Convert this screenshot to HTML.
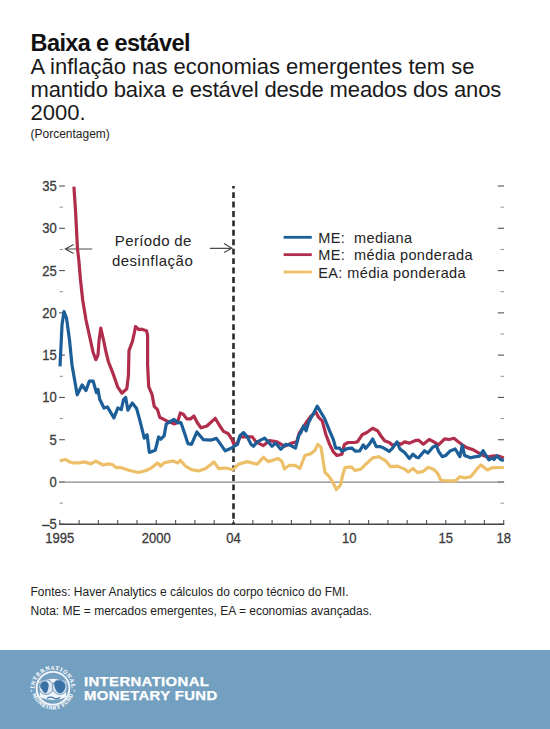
<!DOCTYPE html>
<html><head><meta charset="utf-8">
<style>
html,body{margin:0;padding:0;background:#fff;}
body{width:550px;height:729px;position:relative;overflow:hidden;font-family:"Liberation Sans",sans-serif;}
.t{position:absolute;white-space:nowrap;left:0;}
#title{left:30.6px;top:32.1px;font-weight:bold;font-size:23.5px;line-height:23px;color:#111;letter-spacing:-0.62px;}
.sub{left:30.5px;font-size:22px;line-height:23px;color:#1a1a1a;}
#pct{left:30.5px;top:127px;font-size:12px;line-height:14px;color:#222;}
.fn{left:30.5px;font-size:12px;line-height:14px;color:#222;}
svg{position:absolute;left:0;top:0;}
.tk{stroke:#5a5a5a;stroke-width:1.15;}
.tk2{stroke:#8a8a8a;stroke-width:0.95;}
.zero{stroke:#8a8a8a;stroke-width:1.2;}
.axis{stroke:#444;stroke-width:1.4;}
.dash{stroke:#2a2a2a;stroke-width:2.6;stroke-dasharray:5.9 3.53;stroke-dashoffset:3.3;}
.arr{stroke:#4a4a4a;stroke-width:1.15;fill:none;}
.ln{fill:none;stroke-width:3.2;stroke-linejoin:round;stroke-linecap:butt;}
.yl{font-family:"Liberation Sans",sans-serif;font-size:14.5px;fill:#3a3a3a;stroke:#3a3a3a;stroke-width:0.3;text-anchor:end;}
.xl{font-family:"Liberation Sans",sans-serif;font-size:14.5px;fill:#3a3a3a;stroke:#3a3a3a;stroke-width:0.3;text-anchor:middle;}
.lg{font-family:"Liberation Sans",sans-serif;font-size:14.5px;letter-spacing:0.4px;fill:#222;}
.an{font-family:"Liberation Sans",sans-serif;font-size:15px;fill:#222;text-anchor:middle;}
#banner{position:absolute;left:0;top:650px;width:550px;height:79px;background:#739fc0;}
.imf{position:absolute;left:83.8px;transform:scaleX(1.24);transform-origin:0 0;font-weight:bold;font-size:12px;line-height:14px;color:#fff;letter-spacing:0.3px;-webkit-text-stroke:0.25px #fff;}
</style></head><body>
<div class="t" id="title">Baixa e estável</div>
<div class="t sub" style="top:54.6px">A inflação nas economias emergentes tem se</div>
<div class="t sub" style="top:77.6px;letter-spacing:-0.14px">mantido baixa e estável desde meados dos anos</div>
<div class="t sub" style="top:100.6px">2000.</div>
<div class="t" id="pct">(Porcentagem)</div>
<div class="t fn" style="top:585.2px">Fontes: Haver Analytics e cálculos do corpo técnico do FMI.</div>
<div class="t fn" style="top:603.8000000000001px">Nota: ME = mercados emergentes, EA = economias avançadas.</div>
<svg width="550" height="729" viewBox="0 0 550 729">
<line x1="59.1" y1="524.28" x2="64.9" y2="524.28" class="tk"/>
<line x1="497.8" y1="524.28" x2="504" y2="524.28" class="tk"/>
<line x1="59.7" y1="503.14" x2="63" y2="503.14" class="tk2"/>
<line x1="500.6" y1="503.14" x2="504" y2="503.14" class="tk2"/>
<line x1="59.1" y1="482.00" x2="64.9" y2="482.00" class="tk"/>
<line x1="497.8" y1="482.00" x2="504" y2="482.00" class="tk"/>
<line x1="59.7" y1="460.86" x2="63" y2="460.86" class="tk2"/>
<line x1="500.6" y1="460.86" x2="504" y2="460.86" class="tk2"/>
<line x1="59.1" y1="439.71" x2="64.9" y2="439.71" class="tk"/>
<line x1="497.8" y1="439.71" x2="504" y2="439.71" class="tk"/>
<line x1="59.7" y1="418.57" x2="63" y2="418.57" class="tk2"/>
<line x1="500.6" y1="418.57" x2="504" y2="418.57" class="tk2"/>
<line x1="59.1" y1="397.43" x2="64.9" y2="397.43" class="tk"/>
<line x1="497.8" y1="397.43" x2="504" y2="397.43" class="tk"/>
<line x1="59.7" y1="376.29" x2="63" y2="376.29" class="tk2"/>
<line x1="500.6" y1="376.29" x2="504" y2="376.29" class="tk2"/>
<line x1="59.1" y1="355.14" x2="64.9" y2="355.14" class="tk"/>
<line x1="497.8" y1="355.14" x2="504" y2="355.14" class="tk"/>
<line x1="59.7" y1="334.00" x2="63" y2="334.00" class="tk2"/>
<line x1="500.6" y1="334.00" x2="504" y2="334.00" class="tk2"/>
<line x1="59.1" y1="312.86" x2="64.9" y2="312.86" class="tk"/>
<line x1="497.8" y1="312.86" x2="504" y2="312.86" class="tk"/>
<line x1="59.7" y1="291.72" x2="63" y2="291.72" class="tk2"/>
<line x1="500.6" y1="291.72" x2="504" y2="291.72" class="tk2"/>
<line x1="59.1" y1="270.57" x2="64.9" y2="270.57" class="tk"/>
<line x1="497.8" y1="270.57" x2="504" y2="270.57" class="tk"/>
<line x1="59.7" y1="249.43" x2="63" y2="249.43" class="tk2"/>
<line x1="500.6" y1="249.43" x2="504" y2="249.43" class="tk2"/>
<line x1="59.1" y1="228.29" x2="64.9" y2="228.29" class="tk"/>
<line x1="497.8" y1="228.29" x2="504" y2="228.29" class="tk"/>
<line x1="59.7" y1="207.15" x2="63" y2="207.15" class="tk2"/>
<line x1="500.6" y1="207.15" x2="504" y2="207.15" class="tk2"/>
<line x1="59.1" y1="186.00" x2="64.9" y2="186.00" class="tk"/>
<line x1="497.8" y1="186.00" x2="504" y2="186.00" class="tk"/>
<text transform="translate(56.8 191.00) scale(0.9 1)" class="yl">35</text>
<text transform="translate(56.8 233.29) scale(0.9 1)" class="yl">30</text>
<text transform="translate(56.8 275.57) scale(0.9 1)" class="yl">25</text>
<text transform="translate(56.8 317.86) scale(0.9 1)" class="yl">20</text>
<text transform="translate(56.8 360.14) scale(0.9 1)" class="yl">15</text>
<text transform="translate(56.8 402.43) scale(0.9 1)" class="yl">10</text>
<text transform="translate(56.8 444.71) scale(0.9 1)" class="yl">5</text>
<text transform="translate(56.8 487.00) scale(0.9 1)" class="yl">0</text>
<text transform="translate(56.8 529.28) scale(0.9 1)" class="yl">–5</text>
<line x1="59.80" y1="520" x2="59.80" y2="524.2" class="tk"/>
<line x1="79.10" y1="520" x2="79.10" y2="524.2" class="tk"/>
<line x1="98.40" y1="520" x2="98.40" y2="524.2" class="tk"/>
<line x1="117.70" y1="520" x2="117.70" y2="524.2" class="tk"/>
<line x1="137.00" y1="520" x2="137.00" y2="524.2" class="tk"/>
<line x1="156.30" y1="520" x2="156.30" y2="524.2" class="tk"/>
<line x1="175.60" y1="520" x2="175.60" y2="524.2" class="tk"/>
<line x1="194.90" y1="520" x2="194.90" y2="524.2" class="tk"/>
<line x1="214.20" y1="520" x2="214.20" y2="524.2" class="tk"/>
<line x1="233.50" y1="520" x2="233.50" y2="524.2" class="tk"/>
<line x1="252.80" y1="520" x2="252.80" y2="524.2" class="tk"/>
<line x1="272.10" y1="520" x2="272.10" y2="524.2" class="tk"/>
<line x1="291.40" y1="520" x2="291.40" y2="524.2" class="tk"/>
<line x1="310.70" y1="520" x2="310.70" y2="524.2" class="tk"/>
<line x1="330.00" y1="520" x2="330.00" y2="524.2" class="tk"/>
<line x1="349.30" y1="520" x2="349.30" y2="524.2" class="tk"/>
<line x1="368.60" y1="520" x2="368.60" y2="524.2" class="tk"/>
<line x1="387.90" y1="520" x2="387.90" y2="524.2" class="tk"/>
<line x1="407.20" y1="520" x2="407.20" y2="524.2" class="tk"/>
<line x1="426.50" y1="520" x2="426.50" y2="524.2" class="tk"/>
<line x1="445.80" y1="520" x2="445.80" y2="524.2" class="tk"/>
<line x1="465.10" y1="520" x2="465.10" y2="524.2" class="tk"/>
<line x1="484.40" y1="520" x2="484.40" y2="524.2" class="tk"/>
<line x1="503.70" y1="520" x2="503.70" y2="524.2" class="tk"/>
<text transform="translate(59.80 542.5) scale(0.9 1)" class="xl">1995</text>
<text transform="translate(156.30 542.5) scale(0.9 1)" class="xl">2000</text>
<text transform="translate(233.50 542.5) scale(0.9 1)" class="xl">04</text>
<text transform="translate(349.30 542.5) scale(0.9 1)" class="xl">10</text>
<text transform="translate(445.80 542.5) scale(0.9 1)" class="xl">15</text>
<text transform="translate(503.70 542.5) scale(0.9 1)" class="xl">18</text>
<line x1="59.1" y1="482.1" x2="504.2" y2="482.1" class="zero"/>
<line x1="59.3" y1="524.2" x2="504.2" y2="524.2" class="axis"/>
<line x1="233.5" y1="186" x2="233.5" y2="524" class="dash"/>
<path d="M65.3 249 H92.2 M73.6 244.5 L65.3 249 L73.6 253.5" class="arr"/>
<path d="M209.8 248.3 H232 M224 243.4 L232 248.3 L224 252.5" class="arr"/>
<polyline points="60.0,460.8 65.7,459.5 69.0,461.7 72.3,462.8 78.8,462.8 84.3,461.9 90.9,463.9 95.8,461.1 103.0,465.0 108.5,463.9 113.0,464.8 116.1,467.7 120.6,467.4 129.5,470.5 138.5,472.5 146.1,470.5 151.2,468.0 157.5,462.9 160.7,466.1 163.9,462.9 172.8,461.0 177.9,462.9 180.3,460.3 185.6,466.2 191.5,469.7 198.6,470.9 205.7,468.6 214.0,462.0 218.7,468.6 225.8,468.0 232.9,469.7 238.7,464.1 247.3,461.6 257.2,464.1 263.4,457.3 268.3,461.6 278.2,458.5 281.9,461.6 284.4,469.0 289.3,465.3 295.0,465.4 299.9,468.5 304.9,455.5 311.0,453.6 314.8,450.6 317.8,444.4 320.9,446.9 322.3,455.0 323.6,464.1 325.0,472.3 328.6,475.9 332.3,481.4 336.4,489.5 340.5,485.0 343.2,473.2 345.0,467.7 351.4,466.8 355.0,470.5 360.9,469.1 366.8,463.2 372.7,457.9 378.6,456.7 385.7,460.8 390.5,466.7 397.5,466.1 404.6,469.1 408.2,472.1 412.9,468.5 417.6,472.6 423.3,471.4 428.0,467.3 433.9,469.6 437.5,473.2 441.0,480.3 445.7,480.9 455.2,480.9 459.9,476.7 464.6,477.9 470.6,476.7 474.4,472.2 478.0,467.8 480.9,464.9 484.5,467.8 487.5,470.0 491.8,467.8 499.1,467.5 503.8,467.5" class="ln" stroke="#ecbf68"/>
<polyline points="73.9,186.6 75.5,210.0 77.5,249.0 78.8,260.0 80.5,280.0 82.7,300.0 86.0,320.0 90.4,340.0 93.0,352.0 95.8,359.7 98.0,355.0 99.1,340.0 100.8,328.0 103.5,340.0 106.0,352.0 108.5,362.0 112.8,372.9 117.8,387.2 121.8,393.2 126.8,388.8 128.4,375.8 129.0,350.6 132.3,341.8 134.5,332.0 135.5,326.5 138.8,329.7 141.6,329.2 146.5,330.8 147.6,335.2 147.6,364.8 148.7,386.6 152.0,394.3 154.2,406.3 157.5,409.6 159.7,417.3 166.3,420.6 174.0,423.9 177.4,422.5 180.3,413.0 183.3,414.2 186.8,418.9 190.4,418.9 193.9,416.0 197.5,423.0 201.0,427.8 206.9,426.0 215.2,418.3 219.9,426.0 223.5,431.3 228.2,433.7 231.7,439.0 234.1,444.9 237.6,442.6 239.9,436.9 252.3,436.9 256.0,441.9 263.4,445.6 269.6,440.6 277.0,441.9 284.4,446.2 291.8,443.1 296.7,441.9 299.2,433.2 302.4,428.3 307.3,420.9 311.0,416.0 316.0,412.3 318.5,417.2 322.2,420.9 325.9,434.5 329.6,444.4 333.3,451.8 337.0,455.5 341.9,454.3 344.4,444.4 348.1,442.5 354.3,442.5 357.4,441.9 362.1,434.8 366.8,432.5 372.7,428.3 377.5,430.7 381.0,436.0 384.6,440.7 389.3,442.5 392.8,445.5 397.5,443.1 401.1,444.3 404.6,441.9 409.4,443.1 415.0,440.7 418.5,440.1 423.3,444.2 429.2,439.5 433.9,441.9 438.6,444.8 444.6,438.9 449.3,439.5 454.0,438.3 457.6,441.3 462.3,444.8 467.0,447.8 472.9,449.6 479.5,453.3 483.1,455.5 488.2,456.9 494.0,455.8 499.1,456.2 503.8,458.0" class="ln" stroke="#b02d4b"/>
<polyline points="60.0,366.3 61.3,340.0 62.0,325.0 64.0,311.6 66.5,318.0 69.5,340.0 72.0,365.0 77.2,394.8 82.1,385.0 86.0,390.5 89.3,381.1 93.1,381.0 96.4,392.6 98.0,389.4 99.7,399.2 104.0,408.0 107.4,406.9 113.9,417.9 117.8,408.0 121.3,409.6 123.5,399.7 125.7,397.5 127.9,410.2 132.3,403.0 136.6,408.5 139.9,420.6 144.3,438.1 147.1,434.8 149.3,452.4 155.3,450.2 158.6,437.0 160.8,439.2 164.1,435.9 166.3,423.9 174.0,419.5 177.8,422.8 180.9,422.5 184.5,433.1 188.0,443.7 191.5,444.3 196.9,431.9 199.8,435.5 203.4,439.6 210.5,440.2 216.4,438.4 221.1,444.9 225.2,450.8 230.6,448.5 235.3,445.5 237.5,444.3 239.9,435.7 243.6,432.6 247.3,436.9 251.0,444.3 253.5,446.2 257.2,441.9 264.6,438.1 268.3,441.9 272.0,446.2 275.7,443.1 280.7,449.3 285.6,444.3 289.3,444.9 295.5,448.0 297.5,440.7 298.7,435.7 301.2,432.0 303.6,425.9 306.1,430.8 308.6,422.2 313.5,413.5 317.2,406.1 324.6,418.5 329.6,430.8 333.3,439.4 335.7,448.1 339.4,448.1 341.9,451.2 346.9,448.7 351.8,448.1 355.5,451.2 359.7,450.8 363.3,444.9 365.6,448.4 369.2,444.3 372.7,439.0 376.3,446.6 379.8,446.6 383.4,447.8 389.3,451.4 392.8,447.8 397.0,441.9 399.9,449.0 404.6,452.6 409.4,458.5 412.9,454.3 416.5,457.3 418.5,457.8 424.5,450.7 428.0,453.1 432.7,447.2 436.3,445.4 438.6,451.3 442.2,456.6 445.7,455.5 450.5,450.7 455.2,449.0 459.9,456.6 462.3,445.4 464.6,455.5 470.6,457.8 474.4,456.9 479.5,456.2 483.1,450.7 486.0,455.5 488.9,459.8 491.8,458.0 494.0,459.5 496.9,455.8 500.5,459.5 503.8,460.5" class="ln" stroke="#1c5f98"/>
<line x1="283.6" y1="237.30" x2="311.8" y2="237.30" stroke="#1c5f98" stroke-width="2.8"/>
<text x="318.2" y="243.00" class="lg">ME:&#160;&#160;mediana</text>
<line x1="283.6" y1="254.65" x2="311.8" y2="254.65" stroke="#b02d4b" stroke-width="2.8"/>
<text x="318.2" y="260.40" class="lg">ME:&#160;&#160;média ponderada</text>
<line x1="283.6" y1="272.00" x2="311.8" y2="272.00" stroke="#ecbf68" stroke-width="2.8"/>
<text x="318.2" y="277.80" class="lg">EA: média ponderada</text>
<text x="153.3" y="245.6" class="an" letter-spacing="0.35">Período de</text>
<text x="152.6" y="266.3" class="an" letter-spacing="0.5">desinflação</text>
</svg>
<div id="banner"></div>
<svg width="550" height="729" viewBox="0 0 550 729">
<defs><path id="arcT" d="M 35.1 693.3 A 18.6 18.6 0 1 1 70.9 693.3"/><path id="arcB" d="M 32.0 690.3 A 21.1 21.1 0 0 0 74.0 690.3"/></defs>
<text font-family="Liberation Serif" font-weight="bold" font-size="5.6" fill="#f6f9fc" stroke="#f6f9fc" stroke-width="0.18" letter-spacing="0.85"><textPath href="#arcT" startOffset="50%" text-anchor="middle">INTERNATIONAL</textPath></text>
<text font-family="Liberation Serif" font-weight="bold" font-size="5.4" fill="#f6f9fc" stroke="#f6f9fc" stroke-width="0.18" letter-spacing="0.5"><textPath href="#arcB" startOffset="50%" text-anchor="middle">MONETARY FUND</textPath></text>
<circle cx="31.5" cy="690.8" r="0.8" fill="#f4f7fb"/><circle cx="74.5" cy="690.8" r="0.8" fill="#f4f7fb"/>
<circle cx="53" cy="688.3" r="16.4" fill="none" stroke="#f4f7fb" stroke-width="1.8"/>
<path d="M 39.5 681.3 Q 53 676.3 66.5 681.3 L 66 697.3 Q 53 702.8 40 697.3 Z" fill="#f0f5f9"/>
<circle cx="46.2" cy="687.0999999999999" r="7.4" fill="#dbe6f0" stroke="#5a8ab4" stroke-width="0.8"/>
<circle cx="59.8" cy="687.0999999999999" r="7.4" fill="#dbe6f0" stroke="#5a8ab4" stroke-width="0.8"/>
<path d="M 40 685.3 Q 42 680.8 46 681.3 Q 49.5 683.3 48.5 687.3 Q 48 691.3 46 693.3 Q 43 692.8 42 689.3 Q 40 688.3 40 685.3 Z" fill="#3a72a5"/>
<path d="M 54 683.3 Q 56 679.8 61 680.3 Q 66 682.8 65.5 687.3 Q 64 692.3 61 693.3 Q 57.5 693.8 56 690.3 Q 54 687.3 54 683.3 Z" fill="#3a72a5"/>
<path d="M 47 698.3 Q 51 695.8 54 698.3 Q 57 699.8 60 697.3" fill="none" stroke="#3f74a6" stroke-width="1.2"/>
</svg>
<div class="t imf" style="top:675px">INTERNATIONAL</div>
<div class="t imf" style="top:688.6px">MONETARY FUND</div>
</body></html>
